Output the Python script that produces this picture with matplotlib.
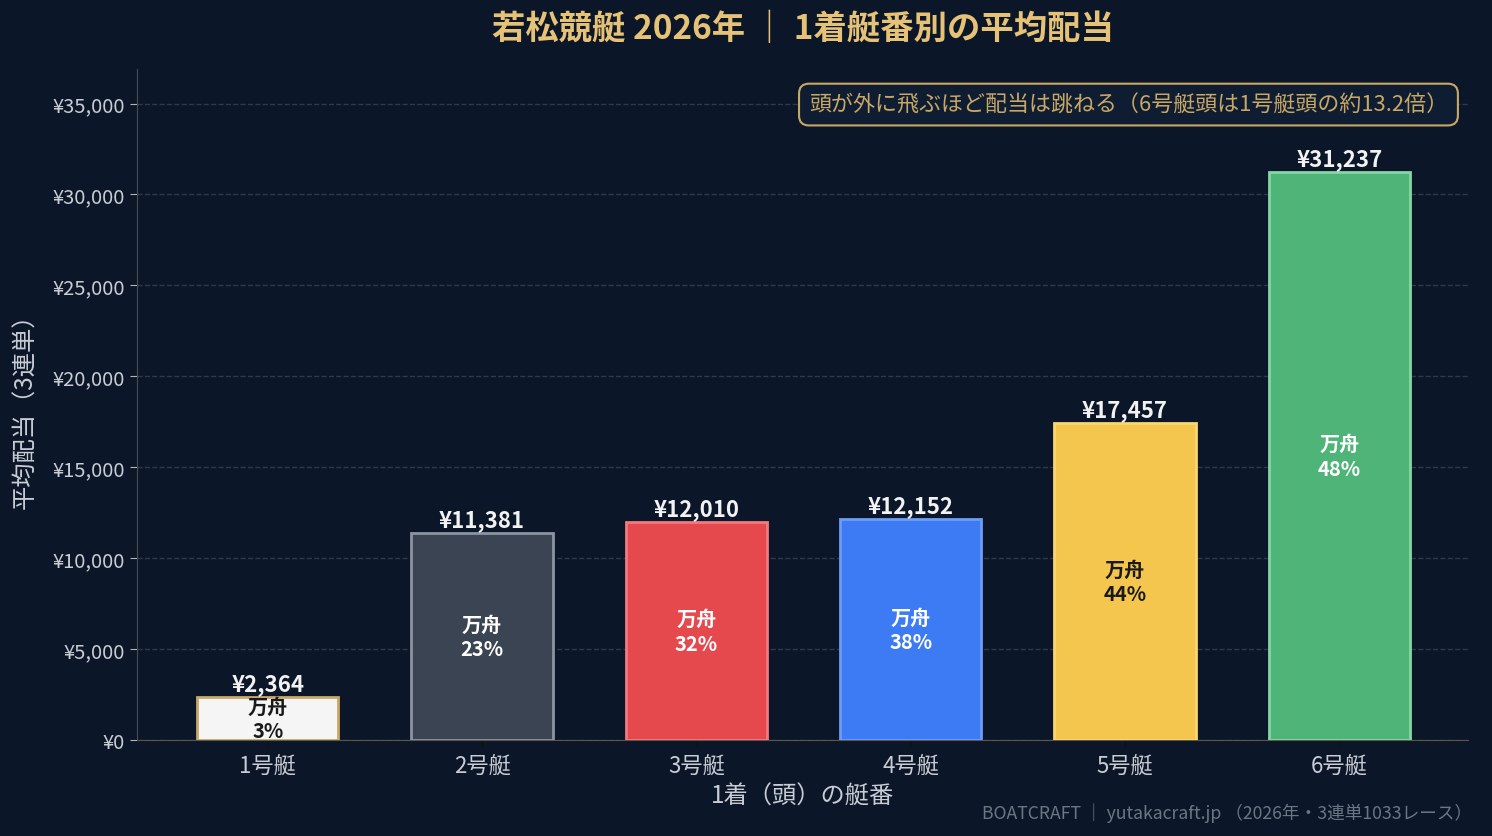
import matplotlib
matplotlib.use("Agg")
import matplotlib.pyplot as plt
import numpy as np

plt.rcParams['font.family'] = ['Noto Sans CJK JP', 'DejaVu Sans']

boats = ["1号艇", "2号艇", "3号艇", "4号艇", "5号艇", "6号艇"]
avg_payout = [2364, 11381, 12010, 12152, 17457, 31237]
manshu_pct = [3, 23, 32, 38, 44, 48]

bar_colors = ["#f5f5f5", "#3b4452", "#e5484d", "#3d7bf5", "#f4c64e", "#4fb478"]
edge_colors = ["#c9a866", "#8a94a3", "#f27a7e", "#6f9cf7", "#f8d770", "#86d6a6"]
inner_text = ["#1a1a1a", "#ffffff", "#ffffff", "#ffffff", "#1a1a1a", "#ffffff"]

bg = "#0b1628"
gold = "#e6c277"
light = "#c8cdd5"

fig = plt.figure(figsize=(14.92, 8.37), dpi=100, facecolor=bg)
ax = fig.add_axes([137/1492, 1-741/837, (1468-137)/1492, (741-70)/837])
ax.set_facecolor(bg)

x = np.arange(len(boats))
ax.bar(x, avg_payout, width=0.66, color=bar_colors, edgecolor=edge_colors,
       linewidth=2, zorder=3)

for i, v in enumerate(avg_payout):
    ax.text(i, v + 100, f"¥{v:,}", ha="center", va="bottom", fontsize=16,
            fontweight="bold", color="#f2f2f2", zorder=4)
    ax.text(i, v / 2, f"万舟\n{manshu_pct[i]}%", ha="center", va="center",
            fontsize=14.5, fontweight="bold", color=inner_text[i],
            linespacing=1.2, zorder=4)

ax.set_xlim(-0.61, 5.6)
ax.set_ylim(0, 36900)
ax.set_yticks(np.arange(0, 35001, 5000))
ax.set_yticklabels([f"¥{t:,}" for t in range(0, 35001, 5000)])
ax.set_xticks(x)
ax.set_xticklabels(boats)
ax.tick_params(axis="y", colors=light, labelsize=14.5, length=5,
               color="#aeb4bc")
ax.tick_params(axis="x", colors=light, labelsize=16, length=4,
               color="#111111", pad=6)
ax.grid(axis="y", linestyle="--", color="#2e3a47", linewidth=1, zorder=0)

for s in ["top", "right"]:
    ax.spines[s].set_visible(False)
ax.spines["left"].set_color("#4a4e52")
ax.spines["bottom"].set_color("#5c5648")

ax.set_xlabel("1着（頭）の艇番", fontsize=17.5, color=light, labelpad=4)
ax.set_ylabel("平均配当（3連単）", fontsize=17.5, color=light, labelpad=10)

ax.set_title("若松競艇 2026年 ｜ 1着艇番別の平均配当", fontsize=24,
             fontweight="bold", color=gold, pad=22)

ax.text(0.985, 0.947, "頭が外に飛ぶほど配当は跳ねる（6号艇頭は1号艇頭の約13.2倍）",
        transform=ax.transAxes, ha="right", va="center", fontsize=15.8,
        color="#c9a866", zorder=5,
        bbox=dict(boxstyle="round,pad=0.45", facecolor="#0f1d33",
                  edgecolor="#c9a866", linewidth=1.5))

fig.text(1472/1492, 1 - 813/837, "BOATCRAFT ｜ yutakacraft.jp （2026年・3連単1033レース）",
         ha="right", va="center", fontsize=12.7, color="#6b7685")

fig.savefig("out.png", dpi=100, facecolor=bg)
